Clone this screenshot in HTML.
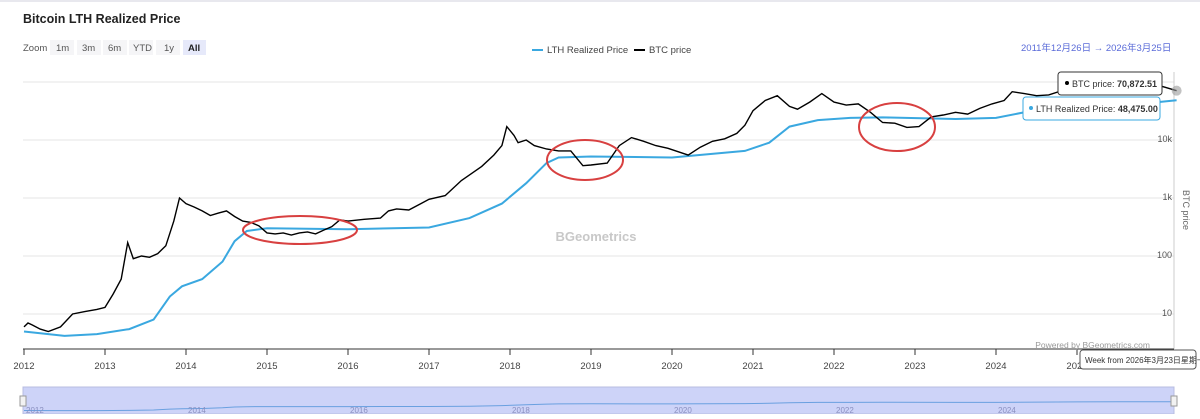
<!DOCTYPE html>
<html><head><meta charset="utf-8">
<style>
body{margin:0;width:1200px;height:414px;overflow:hidden;background:#fff;font-family:"Liberation Sans","Noto Sans CJK SC",sans-serif;}
svg text{font-family:"Liberation Sans","Noto Sans CJK SC",sans-serif;}
</style></head><body>
<svg id="chart" width="1200" height="414" xmlns="http://www.w3.org/2000/svg">
<line x1="0" y1="1" x2="1200" y2="1" stroke="#e8e8ee" stroke-width="2"/>
<text x="23" y="23" font-size="12.5" font-weight="bold" fill="#222">Bitcoin LTH Realized Price</text>
<g font-size="9.5" fill="#555">
<text x="23" y="51">Zoom</text>
<rect x="50" y="40" width="24" height="15" fill="#f5f5f7"/><text x="56" y="51">1m</text>
<rect x="77" y="40" width="24" height="15" fill="#f5f5f7"/><text x="82" y="51">3m</text>
<rect x="103" y="40" width="24" height="15" fill="#f5f5f7"/><text x="108" y="51">6m</text>
<rect x="129" y="40" width="24" height="15" fill="#f5f5f7"/><text x="133" y="51">YTD</text>
<rect x="156" y="40" width="24" height="15" fill="#f5f5f7"/><text x="164" y="51">1y</text>
<rect x="183" y="40" width="23" height="15" fill="#e6e9fa"/><text x="188" y="51" font-weight="bold" fill="#222">All</text>
</g>
<g font-size="9.5" fill="#444">
<line x1="532" y1="50" x2="543" y2="50" stroke="#3aa8e0" stroke-width="2"/>
<text x="547" y="53">LTH Realized Price</text>
<line x1="634" y1="50" x2="645" y2="50" stroke="#000" stroke-width="2"/>
<text x="649" y="53">BTC price</text>
</g>
<text x="1021" y="51" font-size="9.5" fill="#5a6bd8">2011年12月26日  →  2026年3月25日</text>
<g id="grid"></g>
<line x1="1174" y1="72" x2="1174" y2="349" stroke="#ccc" stroke-width="1"/>
<text transform="translate(1183,210) rotate(90)" font-size="9" fill="#666" text-anchor="middle">BTC price</text>
<text x="596" y="241" font-size="13" font-weight="bold" fill="#c8c8c8" text-anchor="middle">BGeometrics</text>
<path id="lth" fill="none" stroke="#3aa8e0" stroke-width="2"/>
<path id="btc" fill="none" stroke="#000" stroke-width="1.4"/>
<g fill="none" stroke="#d84040" stroke-width="2">
<ellipse cx="300" cy="230" rx="57" ry="14"/>
<ellipse cx="585" cy="160" rx="38" ry="20"/>
<ellipse cx="897" cy="127" rx="38" ry="24"/>
</g>
<line x1="23" y1="349" x2="1174" y2="349" stroke="#333" stroke-width="1"/>
<g id="xaxis" font-size="9.5" fill="#444" text-anchor="middle"></g>
<text x="1150" y="348" font-size="8.5" fill="#999" text-anchor="end">Powered by BGeometrics.com</text>
<g>
<rect x="23" y="387" width="1151" height="27" fill="#cdd3f8" stroke="#b8bde0"/>
<path id="nav" fill="none" stroke="#6aa0e0" stroke-width="1"/>
<g id="navlab" font-size="8" fill="#8a8fc0"></g>
<rect x="20" y="396" width="6" height="10" fill="#f2f2f2" stroke="#999"/>
<rect x="1171" y="396" width="6" height="10" fill="#f2f2f2" stroke="#999"/>
</g>
<g>
<rect x="1058" y="72" width="104" height="23" rx="3" fill="#fff" stroke="#333"/>
<circle cx="1067" cy="83" r="2" fill="#000"/>
<text x="1072" y="87" font-size="9" fill="#333">BTC price: <tspan font-weight="bold">70,872.51</tspan></text>
</g>
<g>
<rect x="1023" y="97" width="137" height="23" rx="3" fill="#fff" stroke="#3aa8e0"/>
<circle cx="1031" cy="108" r="2" fill="#3aa8e0"/>
<text x="1036" y="112" font-size="9" fill="#333">LTH Realized Price: <tspan font-weight="bold">48,475.00</tspan></text>
</g>
<g>
<rect x="1080" y="350" width="116" height="19" rx="3" fill="#fff" stroke="#555"/>
<text x="1085" y="363" font-size="8" fill="#333">Week from 2026年3月23日星期一</text>
</g>
<circle id="endBtc" r="5" fill="#999" opacity="0.6"/>
</svg>
<script>
const yTicks=[10,100,1000,10000,100000];
const yTickLabels=["10","100","1k","10k",""];
const xYears=[2012,2013,2014,2015,2016,2017,2018,2019,2020,2021,2022,2023,2024,2025];
const btcT=[2012.0,2012.05,2012.1,2012.2,2012.3,2012.45,2012.6,2012.75,2012.9,2013.0,2013.1,2013.2,2013.28,2013.35,2013.45,2013.55,2013.65,2013.75,2013.85,2013.92,2014.0,2014.1,2014.2,2014.3,2014.4,2014.5,2014.6,2014.7,2014.8,2014.9,2015.0,2015.1,2015.2,2015.3,2015.4,2015.5,2015.6,2015.7,2015.8,2015.9,2016.0,2016.2,2016.4,2016.5,2016.6,2016.75,2016.9,2017.0,2017.2,2017.4,2017.5,2017.65,2017.8,2017.9,2017.96,2018.05,2018.1,2018.2,2018.3,2018.45,2018.6,2018.75,2018.9,2019.0,2019.2,2019.35,2019.5,2019.65,2019.8,2019.95,2020.2,2020.35,2020.5,2020.65,2020.8,2020.9,2021.0,2021.15,2021.3,2021.45,2021.55,2021.7,2021.85,2022.0,2022.15,2022.3,2022.45,2022.6,2022.75,2022.9,2023.05,2023.2,2023.35,2023.5,2023.65,2023.8,2023.95,2024.1,2024.2,2024.35,2024.5,2024.65,2024.8,2024.9,2025.0,2025.15,2025.3,2025.45,2025.6,2025.75,2025.85,2026.0,2026.1,2026.23];
const btcV=[6,7,6.5,5.5,5,6,10,11,12,13,22,40,170,90,100,95,110,150,400,1000,800,700,600,500,550,600,480,400,380,330,250,240,250,230,250,260,240,280,320,420,400,430,450,600,650,620,800,950,1100,2000,2500,3500,5500,8000,17000,12000,9000,10000,8000,7000,6500,6500,3600,3700,4000,8000,11000,9500,8000,7200,5500,7500,9500,10500,13000,18000,32000,48000,58000,38000,34000,45000,63000,45000,40000,42000,30000,20000,19500,16500,17000,25000,27000,30000,28000,35000,42000,48000,68000,63000,58000,60000,70000,95000,98000,90000,85000,100000,115000,110000,120000,88000,80000,70872];
const lthT=[2012.0,2012.5,2012.9,2013.3,2013.6,2013.8,2013.95,2014.2,2014.45,2014.6,2014.75,2015.0,2016.0,2017.0,2017.5,2017.9,2018.2,2018.45,2018.6,2019.0,2020.0,2020.9,2021.2,2021.45,2021.8,2022.2,2022.6,2023.5,2024.0,2024.5,2025.0,2025.5,2026.0,2026.23];
const lthV=[5,4.2,4.5,5.5,8,20,30,40,80,180,270,300,290,310,450,800,1800,4000,5000,5200,5000,6500,9000,17000,22000,24000,24500,23000,24000,33000,37000,42000,45000,48475];
const X=t=>24+(t-2012)*81;
const Y=v=>314-(Math.log10(v)-1)*58;
const ns="http://www.w3.org/2000/svg";
const grid=document.getElementById('grid');
yTicks.forEach((v,i)=>{
 const l=document.createElementNS(ns,'line');
 
 
 l.setAttribute('x1',23);l.setAttribute('x2',1174);l.setAttribute('y1',Y(v));l.setAttribute('y2',Y(v));
 l.setAttribute('stroke','#e6e6e6');grid.appendChild(l);
 const t=document.createElementNS(ns,'text');
 
 
 t.setAttribute('x',1172);t.setAttribute('y',Y(v)+2);t.setAttribute('text-anchor','end');
 t.setAttribute('font-size','9');t.setAttribute('fill','#555');t.textContent=yTickLabels[i];grid.appendChild(t);
});
const xa=document.getElementById('xaxis');
xYears.forEach(yr=>{
 const l=document.createElementNS(ns,'line');
 
 
 l.setAttribute('x1',X(yr));l.setAttribute('x2',X(yr));l.setAttribute('y1',349);l.setAttribute('y2',355);l.setAttribute('stroke','#333');xa.appendChild(l);
 const t=document.createElementNS(ns,'text');
 
 
 t.setAttribute('x',X(yr));t.setAttribute('y',369);t.textContent=yr;xa.appendChild(t);
});
const nl=document.getElementById('navlab');
xYears.filter(y=>y%2==0).forEach(yr=>{
 const t=document.createElementNS(ns,'text');
 
 
 t.setAttribute('x',X(yr)+2);t.setAttribute('y',413);t.textContent=yr;nl.appendChild(t);
});
const pathOf=(T,V,f)=>T.map((t,i)=>(i?'L':'M')+X(t).toFixed(1)+','+f(V[i]).toFixed(1)).join('');
document.getElementById('btc').setAttribute('d',pathOf(btcT,btcV,Y));
document.getElementById('lth').setAttribute('d',pathOf(lthT,lthV,Y));
const NY=v=>412-Math.log10(v)*2.2;
document.getElementById('nav').setAttribute('d',pathOf(lthT,lthV,NY));
const e=document.getElementById('endBtc');
e.setAttribute('cx',X(btcT[btcT.length-1]));e.setAttribute('cy',Y(btcV[btcV.length-1]));
</script>
</body></html>
